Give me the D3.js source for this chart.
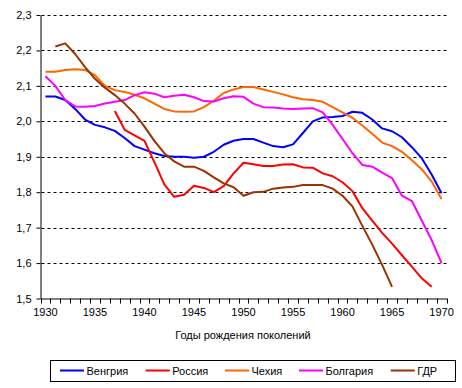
<!DOCTYPE html>
<html>
<head>
<meta charset="utf-8">
<script src="https://cdn.jsdelivr.net/npm/d3@7"></script>
<style>
body { margin: 0; background: #fff; }
text { font-family: "Liberation Sans", Arial, sans-serif; }
</style>
</head>
<body>
<script>
// years on the category axis
const years = d3.range(1930, 1971);
const labelYears = [1930, 1935, 1940, 1945, 1950, 1955, 1960, 1965, 1970];
const yTicks = [1.5, 1.6, 1.7, 1.8, 1.9, 2.0, 2.1, 2.2, 2.3];

// series (value per year, null = no data)
const hungary = [2.07, 2.07, 2.06, 2.035, 2.005, 1.99, 1.983, 1.973, 1.953, 1.93, 1.92, 1.91, 1.902, 1.90, 1.90, 1.897, 1.90, 1.914,
  1.934, 1.945, 1.95, 1.95, 1.94, 1.93, 1.927, 1.935, 1.967, 2.0, 2.011, 2.012, 2.015, 2.027, 2.024, 2.005, 1.98,
  1.972, 1.955, 1.927, 1.896, 1.85, 1.797];
const russia = [null, null, null, null, null, null, null, 2.029, 1.976, 1.96, 1.945, 1.885, 1.822, 1.787, 1.793, 1.818, 1.812, 1.80,
  1.817, 1.853, 1.883, 1.879, 1.874, 1.874, 1.878, 1.879, 1.87, 1.869, 1.853, 1.845, 1.828, 1.803, 1.755, 1.72, 1.685,
  1.655, 1.622, 1.59, 1.557, 1.533, null];
const czech = [2.14, 2.14, 2.145, 2.147, 2.145, 2.13, 2.10, 2.088, 2.083, 2.075, 2.065, 2.05, 2.035, 2.028, 2.027, 2.028, 2.04, 2.058,
  2.08, 2.09, 2.097, 2.097, 2.09, 2.083, 2.076, 2.068, 2.062, 2.06, 2.055, 2.04, 2.025, 2.01, 1.988, 1.965, 1.94,
  1.93, 1.914, 1.89, 1.865, 1.83, 1.781];
const bulgaria = [2.127, 2.10, 2.06, 2.042, 2.041, 2.043, 2.05, 2.055, 2.06, 2.074, 2.082, 2.078, 2.068, 2.072, 2.075, 2.068, 2.057, 2.056,
  2.065, 2.071, 2.069, 2.05, 2.04, 2.039, 2.036, 2.035, 2.036, 2.037, 2.025, 1.99, 1.95, 1.91, 1.877, 1.872, 1.855,
  1.84, 1.79, 1.775, 1.72, 1.665, 1.60];
const gdr = [null, 2.211, 2.22, 2.19, 2.153, 2.12, 2.095, 2.074, 2.05, 2.022, 1.985, 1.945, 1.91, 1.887, 1.872, 1.872, 1.86, 1.842,
  1.825, 1.814, 1.79, 1.80, 1.801, 1.81, 1.813, 1.815, 1.82, 1.82, 1.82, 1.81, 1.79, 1.76, 1.705, 1.652, 1.595,
  1.533, null, null, null, null, null];

const seriesNames = ["Венгрия", "Россия", "Чехия", "Болгария", "ГДР"];
const seriesValues = [hungary, russia, czech, bulgaria, gdr];
const colors = ["#0000ff", "#ff0000", "#ff6600", "#ff00ff", "#993300"];

const width = 462, height = 388;
const plotLeft = 40.5, plotRight = 446.5, plotTop = 15, plotBottom = 298.5;

const ru = d3.formatLocale({decimal: ",", thousands: " ", grouping: [3], currency: ["", ""]});
const fmt = ru.format(".1f");

const svg = d3.select("body").append("svg")
    .attr("width", width)
    .attr("height", height);

const x = d3.scaleBand().domain(years).range([plotLeft, plotRight]).padding(0);
const y = d3.scaleLinear().domain([1.5, 2.3]).range([plotBottom, plotTop]);

// dashed gridlines
svg.append("g")
    .selectAll("line")
    .data(yTicks.filter(d => d > 1.5))
    .join("line")
    .attr("x1", plotLeft + 1)
    .attr("x2", plotRight)
    .attr("y1", d => Math.round(y(d)) + 0.5)
    .attr("y2", d => Math.round(y(d)) + 0.5)
    .style("stroke", "#000")
    .style("stroke-width", 1)
    .attr("stroke-dasharray", "3,3");

// y axis
const yAxis = d3.axisLeft(y).tickValues(yTicks).tickFormat(fmt).tickSize(4).tickPadding(5).tickSizeOuter(0);
const gy = svg.append("g")
    .attr("transform", "translate(" + plotLeft + ",0)")
    .call(yAxis);
gy.selectAll("text").style("font-size", "11px").style("fill", "#000");
gy.selectAll("line").style("stroke", "#000");
gy.select(".domain").style("stroke", "#000");

// x axis: labels at category centres
const xAxis = d3.axisBottom(x).tickValues(labelYears).tickSize(0).tickPadding(10).tickSizeOuter(0);
const gx = svg.append("g")
    .attr("transform", "translate(0," + plotBottom + ")")
    .call(xAxis);
gx.selectAll("text").style("font-size", "11px").style("fill", "#000");
gx.select(".domain").style("stroke", "#000");

// tick marks between categories
const bounds = years.map(d => x(d)).concat([x(1970) + x.bandwidth()]);
svg.append("g")
    .selectAll("line")
    .data(bounds)
    .join("line")
    .attr("x1", d => Math.round(d) + 0.5)
    .attr("x2", d => Math.round(d) + 0.5)
    .attr("y1", plotBottom)
    .attr("y2", plotBottom + 5)
    .style("stroke", "#000");

// series lines
const line = d3.line()
    .defined(d => d.v != null)
    .x(d => x(d.year) + x.bandwidth() / 2)
    .y(d => y(d.v));

seriesValues.forEach(function (vals, i) {
    svg.append("path")
        .datum(years.map((yr, j) => ({year: yr, v: vals[j]})))
        .attr("d", line)
        .style("fill", "none")
        .style("stroke", colors[i])
        .style("stroke-width", 2)
        .style("stroke-linejoin", "round");
});

// axis title
svg.append("text")
    .attr("x", 243)
    .attr("y", 339)
    .attr("text-anchor", "middle")
    .style("font-size", "11px")
    .text("Годы рождения поколений");

// legend
const legend = svg.append("g");
legend.append("rect")
    .attr("x", 50.5)
    .attr("y", 360.5)
    .attr("width", 405)
    .attr("height", 21)
    .style("fill", "#fff")
    .style("stroke", "#000");

const legendX = [60, 145.7, 225, 299, 390.7];
seriesNames.forEach(function (name, i) {
    legend.append("line")
        .attr("x1", legendX[i])
        .attr("x2", legendX[i] + 24)
        .attr("y1", 370.5)
        .attr("y2", 370.5)
        .style("stroke", colors[i])
        .style("stroke-width", 2);
    legend.append("text")
        .attr("x", legendX[i] + 26.5)
        .attr("y", 374.5)
        .style("font-size", "11px")
        .text(name);
});
</script>
</body>
</html>
